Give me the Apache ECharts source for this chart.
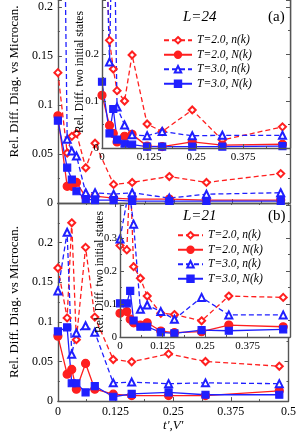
<!DOCTYPE html>
<html><head><meta charset="utf-8">
<script src="https://cdn.jsdelivr.net/npm/echarts@6/dist/echarts.min.js"></script>
<style>html,body{margin:0;padding:0;background:#fff}#c{width:299px;height:433px}</style>
</head><body><div id="c"></div>
<script>
// ---- data ----
const xValues = [0, 0.02, 0.03, 0.04, 0.06, 0.08, 0.12, 0.16, 0.24, 0.32, 0.48];
const seriesNames = ['T=2.0, n(k)', 'T=2.0, N(k)', 'T=3.0, n(k)', 'T=3.0, N(k)'];
const xTickStep = 0.125;

// (a) L=24 main panel
const a_T2_nk = [0.133, 0.051, 0.068, 0.071, 0.036, 0.061, 0.019, 0.021, 0.027, 0.021, 0.030];
const a_T2_Nk = [0.089, 0.017, 0.017, 0.021, 0.006, 0.007, 0.005, 0.004, 0.004, 0.003, 0.003];
const a_T3_nk = [0.85, 0.065, 0.053, 0.048, 0.0105, 0.0105, 0.009, 0.0105, 0.005, 0.009, 0.0105];
const a_T3_Nk = [0.084, 0.036, 0.024, 0.012, 0.004, 0.003, 0.003, 0.002, 0.002, 0.002, 0.002];
// (a) inset
const ai_T2_nk = [0.6, 0.229, 0.168, 0.122, 0.100, 0.198, 0.051, 0.035, 0.081, 0.017, 0.045];
const ai_T2_Nk = [0.112, 0.048, 0.031, 0.013, 0.025, 0.029, 0.004, 0.003, 0.013, 0.006, 0.008];
const ai_T3_nk = [0.77, 0.183, 0.6, 0.087, 0.049, 0.028, 0.026, 0.035, 0.026, 0.027, 0.027];
const ai_T3_Nk = [0.141, 0.031, 0.083, 0.018, 0.009, 0.007, 0.003, 0.003, 0.003, 0.003, 0.004];
// (b) L=21 main panel
const b_T2_nk = [0.168, 0.105, 0.225, 0.0775, 0.194, 0.106, 0.0525, 0.0496, 0.0596, 0.050, 0.044];
const b_T2_Nk = [0.082, 0.034, 0.040, 0.015, 0.0475, 0.015, 0.0087, 0.007, 0.007, 0.007, 0.013];
const b_T3_nk = [0.139, 0.213, 0.059, 0.086, 0.095, 0.087, 0.023, 0.024, 0.022, 0.023, 0.022];
const b_T3_Nk = [0.088, 0.093, 0.0225, 0.0225, 0.011, 0.019, 0.0055, 0.009, 0.011, 0.008, 0.008];
// (b) inset
const bi_T2_nk = [0.277, 0.264, 0.5, 0.213, 0.178, 0.124, 0.072, 0.068, 0.049, 0.124, 0.120];
const bi_T2_Nk = [0.072, 0.077, 0.054, 0.043, 0.036, 0.043, 0.018, 0.013, 0.016, 0.036, 0.031];
const bi_T3_nk = [0.297, 0.41, 0.42, 0.342, 0.084, 0.097, 0.077, 0.054, 0.120, 0.067, 0.067];
const bi_T3_Nk = [0.102, 0.102, 0.140, 0.050, 0.031, 0.031, 0.014, 0.011, 0.021, 0.019, 0.023];

// ---- style ----
const SERIF = '"Liberation Serif","DejaVu Serif",serif';
const RED = '#ff1f1f', BLUE = '#1f1fff', FRAME = '#555';
const styles = [
  {color: RED, dash: [5, 3], symbol: 'emptyDiamond', size: 7},
  {color: RED, dash: 'solid', symbol: 'circle', size: 8},
  {color: BLUE, dash: [5, 3], symbol: 'emptyTriangle', size: 7},
  {color: BLUE, dash: 'solid', symbol: 'rect', size: 7}
];

function mkSeries(vals, idx, axis, z) {
  const s = styles[idx];
  return {
    type: 'line', name: seriesNames[idx], xAxisIndex: axis, yAxisIndex: axis, z: z,
    data: xValues.map((x, i) => [x, vals[i]]),
    symbol: s.symbol, symbolSize: s.size, clip: true, animation: false,
    lineStyle: {color: s.color, width: 1.3, type: s.dash},
    itemStyle: {color: s.color, borderColor: s.color, borderWidth: 1.2}
  };
}

function valAxis(o) {
  return Object.assign({
    type: 'value', min: 0, splitLine: {show: false},
    axisLine: {show: true, onZero: false, lineStyle: {color: FRAME, width: 1.4}},
    axisTick: {show: true, inside: true, length: 4, lineStyle: {color: FRAME}},
    minorTick: {show: true, splitNumber: 2, length: 2, lineStyle: {color: FRAME}},
    axisLabel: {show: true, fontFamily: SERIF, fontSize: 12, color: '#000', margin: 5, showMaxLabel: false}
  }, o);
}
const noLabel = {show: false};

const grids = [
  {left: 43, top: 0, width: 247, height: 203},          // (a) main
  {left: 43, top: 203, width: 247, height: 199},        // (b) main
  {left: 102, top: 0, width: 188, height: 148, z: 10, show: true, backgroundColor: '#fff', borderWidth: 0}, // (a) inset
  {left: 120, top: 205, width: 170, height: 132, z: 10, show: true, backgroundColor: '#fff', borderWidth: 0}  // (b) inset
];

const xAxes = [
  valAxis({gridIndex: 0, max: 0.5, interval: xTickStep, axisLabel: noLabel}),
  valAxis({gridIndex: 1, max: 0.5, interval: xTickStep,
    axisLabel: {show: true, fontFamily: SERIF, fontSize: 12, color: '#000', margin: 5, showMaxLabel: true},
    name: "t',V'", nameLocation: 'middle', nameGap: 15,
    nameTextStyle: {fontFamily: SERIF, fontStyle: 'italic', fontSize: 13, color: '#000'}}),
  valAxis({gridIndex: 2, max: 0.5, interval: xTickStep, z: 12,
    axisLabel: {show: true, fontFamily: SERIF, fontSize: 11, color: '#000', margin: 4, showMaxLabel: false}}),
  valAxis({gridIndex: 3, max: 0.5, interval: xTickStep, z: 12,
    axisLabel: {show: true, fontFamily: SERIF, fontSize: 11, color: '#000', margin: 4, showMaxLabel: false}}),
  valAxis({gridIndex: 1, max: 0.5, interval: xTickStep, position: 'top', axisLabel: noLabel})
];

const yName = 'Rel. Diff. Diag. vs Microcan.';
const yInsetName = 'Rel. Diff. two initial states';
const yAxes = [
  valAxis({gridIndex: 0, max: 203 / 980, interval: 0.05,
    name: yName, nameLocation: 'middle', nameGap: 26,
    nameTextStyle: {fontFamily: SERIF, fontSize: 13, color: '#000', padding: [0, 0, 0, 40]}}),
  valAxis({gridIndex: 1, max: 0.25, interval: 0.05,
    name: yName, nameLocation: 'middle', nameGap: 26,
    nameTextStyle: {fontFamily: SERIF, fontSize: 13, color: '#000'}}),
  valAxis({gridIndex: 2, max: 148 / 470, interval: 0.1, z: 12,
    axisLabel: {show: true, fontFamily: SERIF, fontSize: 11, color: '#000', margin: 3, showMaxLabel: false,
      formatter: v => v > 0.25 ? '' : String(v)}}),
  valAxis({gridIndex: 3, max: 0.4, interval: 0.1, z: 12,
    axisLabel: {show: true, fontFamily: SERIF, fontSize: 10.5, color: '#000', margin: 3, showMaxLabel: false}}),
  valAxis({gridIndex: 0, max: 203 / 980, interval: 0.05, position: 'right', axisLabel: noLabel}),
  valAxis({gridIndex: 1, max: 0.25, interval: 0.05, position: 'right', axisLabel: noLabel}),
  valAxis({gridIndex: 2, max: 148 / 470, interval: 0.1, position: 'right', axisLabel: noLabel, z: 12}),
  valAxis({gridIndex: 3, max: 0.4, interval: 0.1, position: 'right', axisLabel: noLabel, z: 12})
];

const series = [
  mkSeries(a_T2_nk, 0, 0, 2), mkSeries(a_T2_Nk, 1, 0, 2), mkSeries(a_T3_nk, 2, 0, 2), mkSeries(a_T3_Nk, 3, 0, 2),
  mkSeries(b_T2_nk, 0, 1, 2), mkSeries(b_T2_Nk, 1, 1, 2), mkSeries(b_T3_nk, 2, 1, 2), mkSeries(b_T3_Nk, 3, 1, 2),
  mkSeries(ai_T2_nk, 0, 2, 11), mkSeries(ai_T2_Nk, 1, 2, 11), mkSeries(ai_T3_nk, 2, 2, 11), mkSeries(ai_T3_Nk, 3, 2, 11),
  mkSeries(bi_T2_nk, 0, 3, 11), mkSeries(bi_T2_Nk, 1, 3, 11), mkSeries(bi_T3_nk, 2, 3, 11), mkSeries(bi_T3_Nk, 3, 3, 11)
];

const legendBase = {
  data: seriesNames, orient: 'vertical', padding: 0, itemGap: 2, itemHeight: 8,
  selectedMode: false, z: 20,
  textStyle: {fontFamily: SERIF, fontStyle: 'italic', fontSize: 11.5, color: '#000', lineHeight: 12.5}
};
const titleStyle = (it) => ({fontFamily: SERIF, fontStyle: it ? 'italic' : 'normal', fontWeight: 'normal', fontSize: 15, color: '#000'});
const insetName = (x, y) => ({
  type: 'text', x: x, y: y, rotation: Math.PI / 2, z: 15, silent: true,
  style: {text: yInsetName, fontFamily: SERIF, fontSize: 11.5, fill: '#000', align: 'center', verticalAlign: 'middle'}
});

const chart = echarts.init(document.getElementById('c'), null, {renderer: 'canvas'});
chart.setOption({
  animation: false,
  backgroundColor: '#fff',
  title: [
    {text: 'L=24', left: 183, top: 10, padding: 0, z: 20, textStyle: titleStyle(true)},
    {text: '(a)', left: 268, top: 10, padding: 0, z: 20, textStyle: titleStyle(false)},
    {text: 'L=21', left: 183, top: 209, padding: 0, z: 20, textStyle: titleStyle(true)},
    {text: '(b)', left: 268, top: 209, padding: 0, z: 20, textStyle: titleStyle(false)}
  ],
  legend: [
    Object.assign({}, legendBase, {left: 163, top: 34, itemWidth: 28}),
    Object.assign({}, legendBase, {left: 177, top: 229, itemWidth: 25})
  ],
  graphic: [insetName(80, 72), insetName(100, 272)],
  grid: grids,
  xAxis: xAxes,
  yAxis: yAxes,
  series: series
});
</script></body></html>
